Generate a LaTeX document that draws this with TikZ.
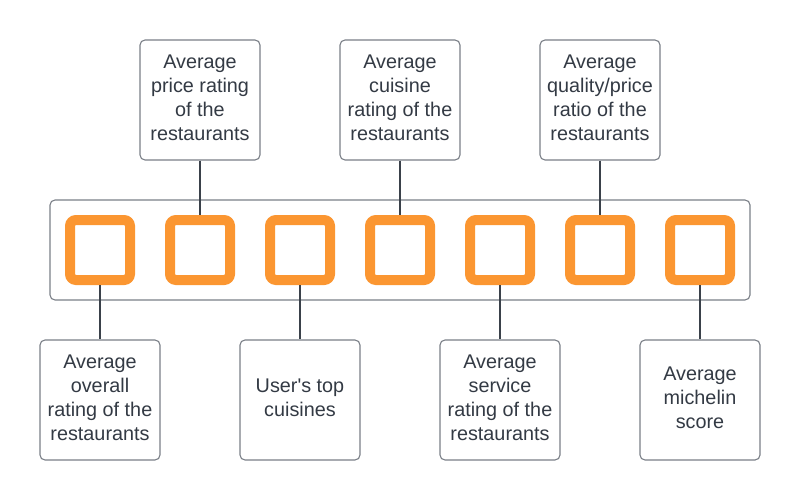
\documentclass[tikz,border=0pt]{standalone}
\usepackage{fontspec}
\setmainfont{Liberation Sans}
\definecolor{boxgray}{HTML}{7A7F87}
\definecolor{linegray}{HTML}{3A414A}
\definecolor{txtgray}{HTML}{333A44}
\definecolor{orng}{HTML}{FB9631}
\newcommand{\lbltext}[1]{\raisebox{2.5pt}{\begin{tabular}{@{}c@{}}#1\end{tabular}}}
\begin{document}
\begin{tikzpicture}[x=1pt,y=-1pt,
  label box/.style={draw=boxgray, line width=1.1pt, fill=white, rounded corners=5pt,
    minimum width=120pt, minimum height=120pt, inner sep=0pt,
    text=txtgray, font=\fontsize{19.8}{24}\selectfont},
  slotbox/.style={draw=orng, line width=10pt, rounded corners=6pt,
    minimum width=60pt, minimum height=60pt, inner sep=0pt, outer sep=5pt},
  link/.style={draw=linegray, line width=1.2pt}]
\useasboundingbox (0,0) rectangle (800,500);
\node[draw=boxgray, line width=1.1pt, rounded corners=5pt, minimum width=700pt,
  minimum height=100pt, inner sep=0pt] (frame) at (400,250) {};
\foreach \i in {1,...,7} {
  \node[slotbox] (s\i) at (\i*100,250) {};
}
\node[label box] (t1) at (200,100) {\lbltext{Average\\price rating\\of the\\restaurants}};
\node[label box] (t2) at (400,100) {\lbltext{Average\\cuisine\\rating of the\\restaurants}};
\node[label box] (t3) at (600,100) {\lbltext{Average\\quality/price\\ratio of the\\restaurants}};
\node[label box] (b1) at (100,400) {\lbltext{Average\\overall\\rating of the\\restaurants}};
\node[label box] (b2) at (300,400) {\lbltext{User\textquotesingle s top\\cuisines}};
\node[label box] (b3) at (500,400) {\lbltext{Average\\service\\rating of the\\restaurants}};
\node[label box] (b4) at (700,400) {\lbltext{Average\\michelin\\score}};
\draw[link] (t1) -- (s2);
\draw[link] (t2) -- (s4);
\draw[link] (t3) -- (s6);
\draw[link] (s1) -- (b1);
\draw[link] (s3) -- (b2);
\draw[link] (s5) -- (b3);
\draw[link] (s7) -- (b4);
\end{tikzpicture}
\end{document}
